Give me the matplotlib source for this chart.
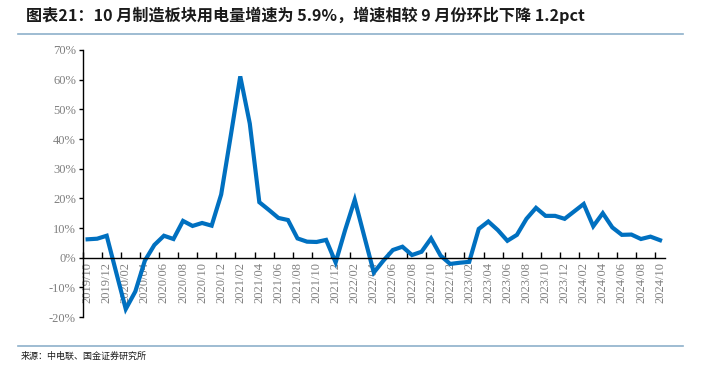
import matplotlib.pyplot as plt
from matplotlib.lines import Line2D
import numpy as np

plt.rcParams['font.family'] = ['Noto Sans CJK SC', 'DejaVu Sans']

# 月份 2019/10 - 2024/10
months = ['%d/%02d' % (2019 + (9 + k) // 12, (9 + k) % 12 + 1) for k in range(61)]

# 制造业用电量同比增速 (%)
growth = [6.2, 6.4, 7.4, -5.0, -17.3, -11.4, -1.0, 4.3, 7.4, 6.3,
	12.4, 10.7, 11.7, 10.8, 21.3, 41.0, 61.1, 45.2, 18.7, 16.1,
	13.4, 12.7, 6.5, 5.4, 5.3, 6.0, -1.6, 9.4, 19.5, 7.2,
	-5.0, -1.0, 2.6, 3.7, 0.9, 2.0, 6.5, 0.7, -2.1, -1.7,
	-1.4, 9.7, 12.2, 9.3, 5.7, 7.7, 13.1, 16.8, 14.1, 14.1,
	13.1, 15.6, 18.1, 10.6, 15.0, 10.2, 7.7, 7.8, 6.3, 7.1,
	5.9]

y_ticks = [-20, -10, 0, 10, 20, 30, 40, 50, 60, 70]

title = '图表21：10 月制造板块用电量增速为 5.9%，增速相较 9 月份环比下降 1.2pct'
source = '来源：中电联、国金证券研究所'

fig = plt.figure(figsize=(7.02, 3.73), dpi=100)
ax = fig.add_axes([0.118, 0.150, 0.829, 0.716])

x = np.arange(len(months))
ax.plot(x, growth, color='#0070C0', linewidth=3.0, solid_joinstyle='miter')

ax.set_xlim(-0.5, len(months) - 0.5)
ax.set_ylim(-20, 70)

# 坐标轴样式
ax.spines['top'].set_visible(False)
ax.spines['right'].set_visible(False)
ax.spines['bottom'].set_position(('data', 0))
ax.spines['left'].set_linewidth(1.0)
ax.spines['bottom'].set_linewidth(1.0)

ax.set_yticks(y_ticks)
ax.set_yticklabels(['%d%%' % v for v in y_ticks])
ax.tick_params(axis='y', direction='out', length=3, width=1, pad=2,
	labelsize=9, labelcolor='#808080')
for lab in ax.get_yticklabels():
	lab.set_fontfamily('Liberation Serif')

# 刻度线在类别之间，标签在类别中心
ax.set_xticks(np.arange(-0.5, len(months) - 1, 2))
ax.set_xticklabels([])
ax.tick_params(axis='x', which='major', direction='in', length=4, width=1)
ax.set_xticks(x[::2], minor=True)
ax.set_xticklabels(months[::2], minor=True, rotation=90, fontsize=9,
	color='#808080', fontfamily='Liberation Serif')
ax.tick_params(axis='x', which='minor', length=0, pad=3)

# 标题和来源
fig.text(0.037, 0.958, title, fontsize=11.6, fontweight='bold', color='#1a1a1a',
	va='center', ha='left')
fig.add_artist(Line2D([0.026, 0.973], [0.909, 0.909], color='#8DB0CB', linewidth=1.2,
	transform=fig.transFigure))
fig.add_artist(Line2D([0.026, 0.973], [0.072, 0.072], color='#8DB0CB', linewidth=1.2,
	transform=fig.transFigure))
fig.text(0.030, 0.046, source, fontsize=6.5, color='#1a1a1a', va='center', ha='left')

fig.savefig('out.png', dpi=100)
